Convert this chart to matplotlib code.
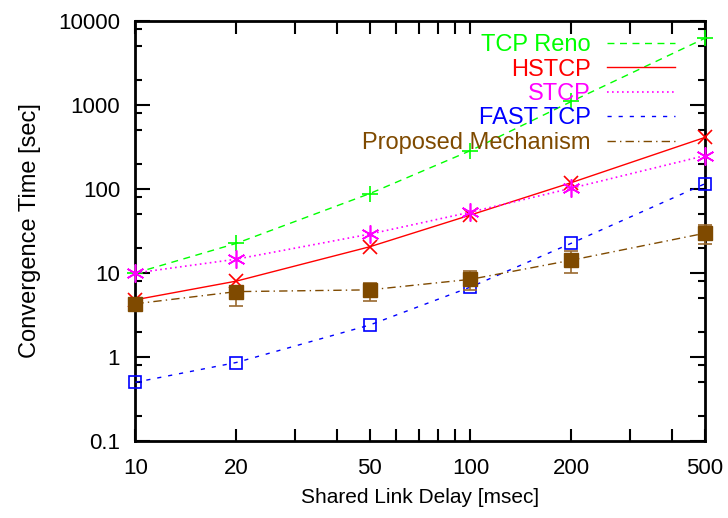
import matplotlib
matplotlib.use("Agg")
import matplotlib.pyplot as plt
from matplotlib.lines import Line2D
from matplotlib.ticker import FixedLocator, FixedFormatter, NullFormatter

plt.rcParams["font.family"] = ["Liberation Sans", "DejaVu Sans"]

# data
delay = [10, 20, 50, 100, 200, 500]
reno = [10, 22.5, 88, 286, 1100, 6200]
hstcp = [4.8, 8.0, 20.5, 49, 119, 410]
stcp = [10, 14.6, 29, 53, 102, 249]
fast = [0.5, 0.86, 2.4, 6.8, 22.6, 115]
proposed = [4.3, 6.0, 6.3, 8.4, 14.2, 29.7]
proposed_lo = [4.1, 4.0, 4.7, 6.3, 9.9, 22.0]
proposed_hi = [4.5, 6.6, 7.7, 10.6, 18.4, 37.0]

xticks = [10, 20, 30, 40, 50, 60, 70, 80, 90, 100, 200, 300, 400, 500]
xlabels = ["10", "20", "", "", "50", "", "", "", "", "100", "200", "", "", "500"]
yticks = [0.1, 1, 10, 100, 1000, 10000]
ylabels = ["0.1", "1", "10", "100", "1000", "10000"]
yminor = [m * 10.0 ** e for e in range(-1, 4) for m in (2, 5, 8)]

brown = "#7f4a00"

fig = plt.figure(figsize=(7.28, 5.18), dpi=100)
ax = fig.add_axes([0.186, 0.1486, 0.782, 0.811])

ax.plot(delay, reno, color="#00ff00", lw=1, ls=(0, (5, 4)), marker="+",
        ms=12, mew=1.2, clip_on=False, zorder=3)
ax.plot(delay, hstcp, color="#ff0000", lw=1, ls="-", marker="x",
        ms=10, mew=1.2, clip_on=False, zorder=3)
ax.plot(delay, stcp, color="#ff00ff", lw=1.2, ls=(0, (1, 2)), marker=(6, 2, 0),
        ms=13, mew=1.2, clip_on=False, zorder=3)
ax.plot(delay, fast, color="#0000ff", lw=1, ls=(0, (3, 5)), marker="s",
        ms=9, mew=1.2, mfc="none", clip_on=False, zorder=3)
yerr = [[p - lo for p, lo in zip(proposed, proposed_lo)],
        [hi - p for p, hi in zip(proposed, proposed_hi)]]
ax.errorbar(delay, proposed, yerr=yerr, color=brown, lw=1,
            ls=(0, (6, 3, 1, 3)), marker="s", ms=10.5, mfc=brown, mec=brown,
            ecolor="#9a6a30", elinewidth=1.2, capsize=5, capthick=1.2,
            clip_on=False, zorder=3)

ax.set_xscale("log")
ax.set_yscale("log")
ax.set_xlim(10, 500)
ax.set_ylim(0.1, 10000)

ax.xaxis.set_major_locator(FixedLocator(xticks))
ax.xaxis.set_major_formatter(FixedFormatter(xlabels))
ax.xaxis.set_minor_locator(FixedLocator([]))
ax.yaxis.set_major_locator(FixedLocator(yticks))
ax.yaxis.set_major_formatter(FixedFormatter(ylabels))
ax.yaxis.set_minor_locator(FixedLocator(yminor))
ax.yaxis.set_minor_formatter(NullFormatter())

ax.tick_params(which="both", direction="in", top=True, right=True,
               labelsize=16, width=1.5, colors="black")
ax.tick_params(axis="x", which="major", length=9, pad=12)
ax.tick_params(axis="y", which="major", length=11, pad=11)
ax.tick_params(axis="y", which="minor", length=5)
for s in ax.spines.values():
    s.set_linewidth(2)

ax.set_xlabel("Shared Link Delay [msec]", fontsize=15, labelpad=7)
ax.set_ylabel("Convergence Time [sec]", fontsize=17, labelpad=12)

handles = [
    Line2D([], [], color="#00ff00", lw=1, ls=(0, (5, 4))),
    Line2D([], [], color="#ff0000", lw=1, ls="-"),
    Line2D([], [], color="#ff00ff", lw=1.2, ls=(0, (1, 2))),
    Line2D([], [], color="#0000ff", lw=1, ls=(0, (3, 5))),
    Line2D([], [], color=brown, lw=1, ls=(0, (6, 3, 1, 3))),
]
names = ["TCP Reno", "HSTCP", "STCP", "FAST TCP", "Proposed Mechanism"]
ax.legend(handles, names, loc="upper right", bbox_to_anchor=(0.948, 0.968),
          frameon=False, markerfirst=False, fontsize=17, labelcolor="linecolor",
          handlelength=2.9, handletextpad=0.68, labelspacing=0.1,
          borderpad=0, borderaxespad=0)

fig.savefig("out.png", dpi=100)
